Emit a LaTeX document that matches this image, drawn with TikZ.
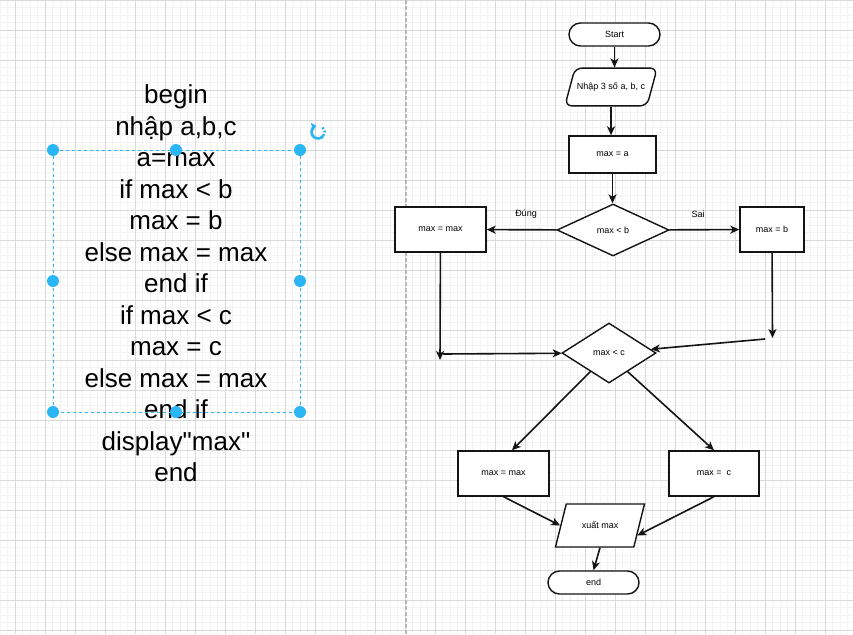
\documentclass[tikz,border=0pt]{standalone}
\usepackage{fontspec}
\setmainfont{Liberation Sans}
\usetikzlibrary{shapes.geometric,arrows.meta,positioning}
\definecolor{selblue}{HTML}{29B6F2}
\definecolor{gridmin}{HTML}{F3F3F3}
\definecolor{gridmaj}{HTML}{D9D9D9}
\definecolor{sepgray}{HTML}{B8B8B8}
\definecolor{ink}{HTML}{141414}
\begin{document}
\begin{tikzpicture}[x=1pt,y=-1pt,
	flow/.style={draw=ink,line width=1.4pt,fill=white,inner sep=1pt,font=\fontsize{9}{10}\selectfont},
	procbox/.style={flow,rectangle,minimum height=45pt},
	term/.style={flow,rectangle,rounded corners=11.5pt,minimum width=91pt,minimum height=23pt},
	decide/.style={flow,diamond,inner sep=0pt},
	io/.style={flow,trapezium,trapezium stretches body,trapezium left angle=75,trapezium right angle=105,inner xsep=2pt},
	arr/.style={draw=ink,line width=1.6pt,-{Stealth[length=9pt,width=8pt,inset=2.5pt]}},
	selhandle/.style={fill=selblue,circle,inner sep=0pt,minimum size=12pt}]
	\fill[white] (0,0) rectangle (853,634);
	\useasboundingbox (0,0) rectangle (853,634);
	% grid of the canvas
	\foreach \gx in {0,7.5,...,855} \draw[gridmin,line width=0.8pt] (\gx,0) -- (\gx,634);
	\foreach \gy in {0,7.5,...,636} \draw[gridmin,line width=0.8pt] (0,\gy) -- (853,\gy);
	\foreach \gx in {15,45,...,855} \draw[gridmaj,line width=0.8pt] (\gx,0) -- (\gx,634);
	\foreach \gy in {0,30,...,636} \draw[gridmaj,line width=0.8pt] (0,\gy) -- (853,\gy);
	\draw[sepgray,line width=1.2pt,dash pattern=on 4pt off 2pt] (406,0) -- (406,634);
	
	% pseudo code
	\node[align=center,font=\fontsize{26}{31.5}\selectfont] (code) at (176,283.5) {begin\\nhập a,b,c\\a=max\\if max < b\\max = b\\else max = max\\end if\\if max < c\\max = c\\else max = max\\end if\\display\textquotedbl max\textquotedbl\\end};
	\draw[selblue,line width=1pt,dash pattern=on 3pt off 3pt] (53,150) rectangle (300,412);
	\foreach \hx/\hy [count=\k] in {53/150,176/150,300/150,53/281,300/281,53/412,176/412,300/412}
		\node[selhandle] (hd\k) at (\hx,\hy) {};
	\begin{scope}[shift={(318,132)},y=1pt]
		\draw[selblue,line width=2.6pt,-{Triangle[length=4.5pt,width=8pt]}] (-35:6.5) arc[start angle=-35,end angle=-255,radius=6.5];
		\draw[selblue,line width=2.6pt,dash pattern=on 1.8pt off 1.8pt] (45:6.5) arc[start angle=45,end angle=-35,radius=6.5];
	\end{scope}
	
	% flowchart
	\node[term] (start) at (614.5,34.5) {Start};
	\node[io,rounded corners=7pt,minimum width=89pt,inner ysep=14.5pt] (in1) at (611,87) {Nhập 3 số a, b, c};
	\node[procbox,minimum width=87pt,minimum height=37pt] (seta) at (612.5,154.5) {max = a};
	\node[decide,minimum width=112pt,minimum height=52pt] (cmpb) at (613,230) {max < b};
	\node[procbox,minimum width=91pt] (keep1) at (440.5,229.5) {max = max};
	\node[procbox,minimum width=64pt] (setb) at (772,229.5) {max = b};
	\node[decide,minimum width=94pt,minimum height=60pt] (cmpc) at (609,353) {max < c};
	\node[procbox,minimum width=91pt] (keep2) at (503.5,473.5) {max = max};
	\node[procbox,minimum width=90pt] (setc) at (714,473.5) {max =\ \ c};
	\node[io,trapezium left angle=76,trapezium right angle=104,minimum width=89pt,inner ysep=18pt] (outmax) at (600,525.5) {xuất max};
	\node[term] (stop) at (593.5,582.5) {end};
	\node[font=\fontsize{9}{10}\selectfont] (dung) at (526,214) {Đúng};
	\node[font=\fontsize{9}{10}\selectfont] (sai) at (698,214) {Sai};
	\coordinate (j1) at (440,360);
	\coordinate (j1b) at (443,354);
	\coordinate (j2) at (772.5,338);
	\coordinate (j2b) at (765,339);
	
	\draw[arr] (start) -- (start |- in1.north);
	\draw[arr] (in1.south) -- (in1.south |- seta.north);
	\draw[arr] (seta) -- (seta |- cmpb.north);
	\draw[arr] (cmpb) -- (keep1);
	\draw[arr] (cmpb) -- (setb);
	\draw[arr] (keep1) -- (j1);
	\draw[arr] (j1b) -- (cmpc);
	\draw[arr] (setb) -- (j2);
	\draw[arr] (j2b) -- (cmpc);
	\draw[arr] (cmpc.-135) -- (keep2.70);
	\draw[arr] (cmpc.-45) -- (setc.north);
	\draw[arr] (keep2.south) -- (outmax.west);
	\draw[arr] (setc.south) -- (outmax.-15);
	\draw[arr] (outmax.south) -- (stop.north);
\end{tikzpicture}
\end{document}
